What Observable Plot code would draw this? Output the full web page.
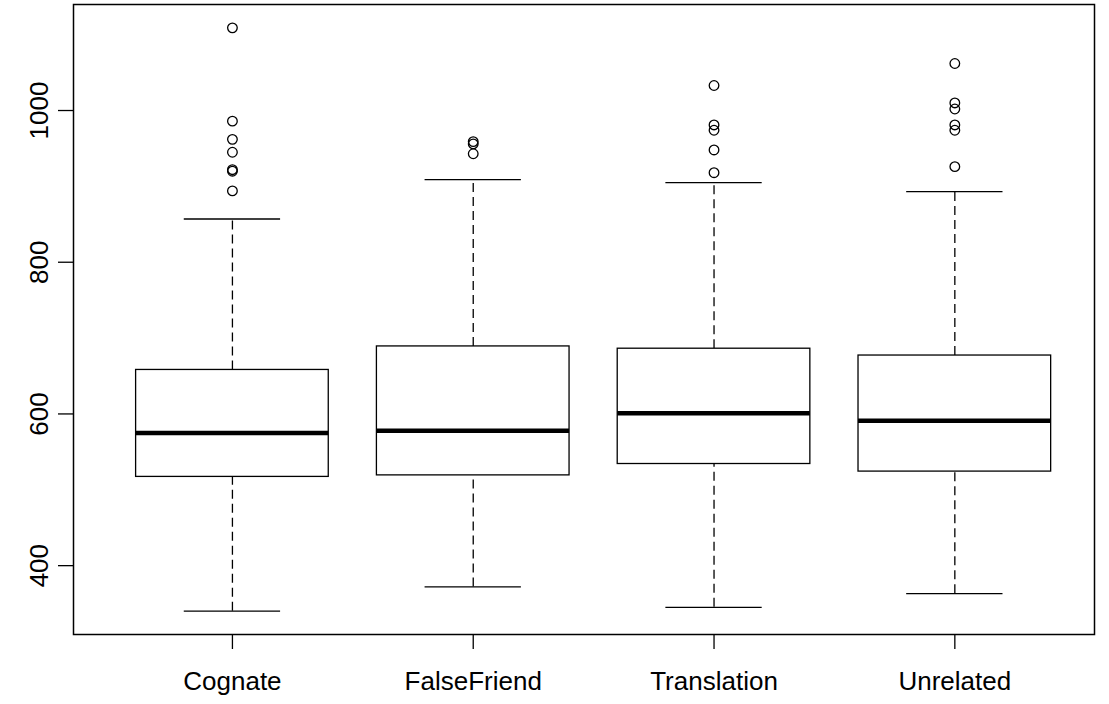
<!DOCTYPE html>
<html>
<head>
<meta charset="utf-8">
<script src="https://cdn.jsdelivr.net/npm/d3@7"></script>
<script src="https://cdn.jsdelivr.net/npm/@observablehq/plot@0.6"></script>
<style>
  body { margin: 0; background: #fff; }
  #chart svg { display: block; }
</style>
</head>
<body>
<div id="chart"></div>
<script>
// Reaction times (ms) by condition: five-number summaries plus outlying trials
const conditions = ["Cognate", "FalseFriend", "Translation", "Unrelated"];
const whiskerLow = [340, 372, 345, 363];
const hinge1 = [517, 519, 534, 524];
const medians = [575, 578, 601, 591];
const hinge3 = [658, 689, 686, 677];
const whiskerHigh = [857, 909, 905, 893];
const outliers = [
  [1109, 986, 962, 945, 922, 920, 894],
  [959, 956, 943],
  [1033, 981, 974, 948, 918],
  [1062, 1010, 1002, 981, 974, 926]
];
const yTicks = [400, 600, 800, 1000];

const stats = conditions.map((name, i) => ({
  name, pos: i + 1,
  lo: whiskerLow[i], q1: hinge1[i], med: medians[i], q3: hinge3[i], hi: whiskerHigh[i]
}));
const points = outliers.flatMap((vals, i) => vals.map(v => ({pos: i + 1, value: v})));

// y range padded by 4% on each side
const allValues = [...whiskerLow, ...whiskerHigh, ...outliers.flat()];
const vMin = d3.min(allValues), vMax = d3.max(allValues);
const pad = (vMax - vMin) * 0.04;

const boxHalf = 0.4;   // half box width
const capHalf = 0.2;   // half staple width
const ink = "#000";
const lw = 1.3;

const chart = Plot.plot({
  width: 1109,
  height: 704,
  marginLeft: 73,
  marginRight: 15,
  marginTop: 4,
  marginBottom: 70,
  style: { fontFamily: "'Liberation Sans', Arial, sans-serif", color: "#000", background: "#fff" },
  x: { type: "linear", domain: [0.34, 4.58], axis: null },
  y: { domain: [vMin - pad, vMax + pad], axis: null },
  marks: [
    // whiskers
    Plot.ruleX(stats, { x: "pos", y1: "q3", y2: "hi", stroke: ink, strokeWidth: lw, strokeDasharray: "9,5" }),
    Plot.ruleX(stats, { x: "pos", y1: "lo", y2: "q1", stroke: ink, strokeWidth: lw, strokeDasharray: "9,5" }),
    // staples
    Plot.ruleY(stats, { y: "hi", x1: d => d.pos - capHalf, x2: d => d.pos + capHalf, stroke: ink, strokeWidth: lw }),
    Plot.ruleY(stats, { y: "lo", x1: d => d.pos - capHalf, x2: d => d.pos + capHalf, stroke: ink, strokeWidth: lw }),
    // boxes
    Plot.rect(stats, { x1: d => d.pos - boxHalf, x2: d => d.pos + boxHalf, y1: "q1", y2: "q3", fill: "#fff", stroke: ink, strokeWidth: lw }),
    // medians
    Plot.ruleY(stats, { y: "med", x1: d => d.pos - boxHalf, x2: d => d.pos + boxHalf, stroke: ink, strokeWidth: 4.5 }),
    // outlying points
    Plot.dot(points, { x: "pos", y: "value", r: 4.8, stroke: ink, fill: "none", strokeWidth: lw }),
    Plot.frame({ stroke: ink, strokeWidth: 1.5 }),
    // axes
    Plot.axisX([1, 2, 3, 4], { tickFormat: d => conditions[d - 1], tickSize: 15, tickPadding: 22, fontSize: 26, strokeWidth: lw, label: null }),
    Plot.axisY(yTicks, { tickSize: 15, tickFormat: () => "", strokeWidth: lw, label: null }),
    Plot.text(yTicks, { y: d => d, text: d => String(d), frameAnchor: "left", dx: -34, rotate: -90, fontSize: 26, textAnchor: "middle", lineAnchor: "middle", fill: ink })
  ]
});

document.getElementById("chart").appendChild(chart);
</script>
</body>
</html>
